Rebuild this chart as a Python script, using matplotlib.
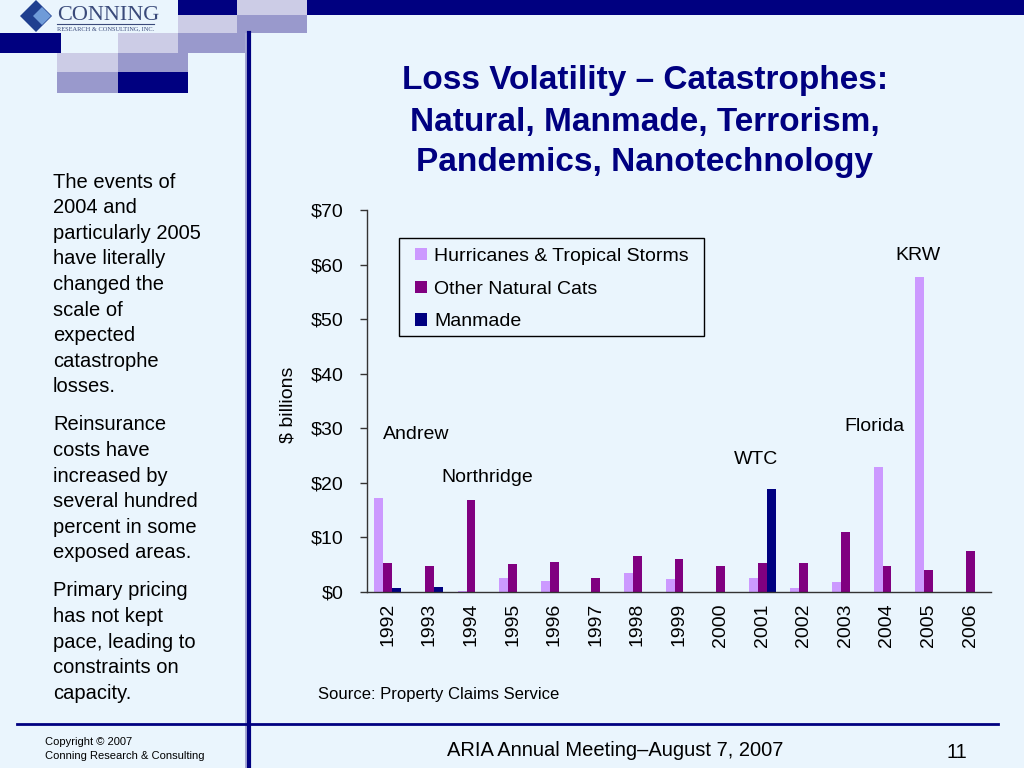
import numpy as np
import matplotlib
matplotlib.use("Agg")
import matplotlib.pyplot as plt
from matplotlib.patches import Rectangle, Polygon

plt.rcParams['font.family'] = ['Liberation Sans', 'DejaVu Sans']

# ---- data ($ billions) ----
years = ['1992', '1993', '1994', '1995', '1996', '1997', '1998', '1999',
         '2000', '2001', '2002', '2003', '2004', '2005', '2006']
hurricanes = [17.2, 0.0, 0.2, 2.6, 2.0, 0.0, 3.5, 2.4, 0.0, 2.6, 0.7, 1.8, 22.9, 57.7, 0.0]
other_nat = [5.3, 4.8, 16.8, 5.1, 5.5, 2.6, 6.6, 6.0, 4.8, 5.3, 5.3, 11.0, 4.8, 4.0, 7.5]
manmade = [0.7, 0.9, 0.0, 0.0, 0.0, 0.0, 0.0, 0.0, 0.0, 18.9, 0.0, 0.0, 0.0, 0.0, 0.0]
series_names = ['Hurricanes & Tropical Storms', 'Other Natural Cats', 'Manmade']
yticks = [0, 10, 20, 30, 40, 50, 60, 70]
event_labels = ['Andrew', 'Northridge', 'WTC', 'Florida', 'KRW']

BG = '#EAF5FD'
NAVY = '#000080'
MID = '#9999CC'
LAV = '#CCCCE6'

W, H = 1024, 768
fig = plt.figure(figsize=(W / 100, H / 100), dpi=100, facecolor=BG)


def fx(x):
    return x / W


def fy(y):
    return 1 - y / H


def rect(x0, y0, x1, y1, color):
    fig.add_artist(Rectangle((fx(x0), fy(y1)), fx(x1) - fx(x0), fy(y0) - fy(y1),
                             transform=fig.transFigure, color=color, lw=0))


# ---- slide decoration ----
rect(178, 0, 237, 15, NAVY)
rect(237, 0, 307, 15, LAV)
rect(307, 0, 1024, 15, NAVY)
rect(178, 15, 237, 33, LAV)
rect(237, 15, 307, 33, MID)
rect(0, 33, 61, 53, NAVY)
rect(118, 33, 178, 53, LAV)
rect(178, 33, 245, 53, MID)
rect(57, 53, 118, 72, LAV)
rect(118, 53, 188, 72, MID)
rect(57, 72, 118, 93, MID)
rect(118, 72, 188, 93, NAVY)

# vertical double rule and footer rule
fig.add_artist(plt.Line2D([fx(245.5), fx(245.5)], [fy(33), 0], transform=fig.transFigure,
                          color=MID, lw=1.2))
fig.add_artist(plt.Line2D([fx(249), fx(249)], [fy(33), 0], transform=fig.transFigure,
                          color=NAVY, lw=3))
fig.add_artist(plt.Line2D([fx(17), fx(998)], [fy(724), fy(724)], transform=fig.transFigure,
                          color=NAVY, lw=2))

# logo
fig.add_artist(Polygon([(fx(20), fy(16)), (fx(36), fy(0)), (fx(52), fy(16)), (fx(36), fy(32))],
                       closed=True, transform=fig.transFigure, color='#1F3F8F', lw=0))
fig.add_artist(Polygon([(fx(33), fy(16)), (fx(42), fy(7)), (fx(51), fy(16)), (fx(42), fy(25))],
                       closed=True, transform=fig.transFigure, color='#6F9BD8', lw=0))
fig.text(fx(57), fy(15), 'CONNING', family=['Liberation Serif', 'DejaVu Serif'],
         fontsize=16, color='#3A4A7A', va='center', ha='left')
fig.add_artist(plt.Line2D([fx(57), fx(154)], [fy(24), fy(24)], transform=fig.transFigure,
                          color='#3A4A7A', lw=0.8))
fig.text(fx(57), fy(28.5), 'RESEARCH & CONSULTING, INC.', family=['Liberation Serif', 'DejaVu Serif'],
         fontsize=4.6, color='#3A4A7A', va='center', ha='left')

# title
title_lines = ['Loss Volatility \u2013 Catastrophes:', 'Natural, Manmade, Terrorism,',
               'Pandemics, Nanotechnology']
for line, y in zip(title_lines, [80, 122, 162]):
    fig.text(fx(645), fy(y), line, fontsize=24, fontweight='bold', color=NAVY,
             ha='center', va='center')

# left-hand commentary
paragraphs = [
    ['The events of', '2004 and', 'particularly 2005', 'have literally', 'changed the',
     'scale of', 'expected', 'catastrophe', 'losses.'],
    ['Reinsurance', 'costs have', 'increased by', 'several hundred', 'percent in some',
     'exposed areas.'],
    ['Primary pricing', 'has not kept', 'pace, leading to', 'constraints on', 'capacity.'],
]
y = 182
for para in paragraphs:
    for line in para:
        fig.text(fx(53), fy(y), line, fontsize=14.5, color='black', ha='left', va='center')
        y += 25.6
    y += 12.4

# ---- chart ----
ax = fig.add_axes([fx(367), fy(592), fx(991) - fx(367), fy(210) - fy(592)])
ax.set_facecolor('none')
x = np.arange(len(years))
bw = 0.216
colors = ['#CC99FF', '#800080', NAVY]
handles = []
for i, (vals, c) in enumerate(zip([hurricanes, other_nat, manmade], colors)):
    b = ax.bar(x + (i - 1) * bw, vals, bw, color=c, label=series_names[i], zorder=2)
    handles.append(b)

ax.set_xlim(-0.5, len(years) - 0.5)
ax.set_ylim(0, 70)
ax.set_yticks(yticks)
ax.set_yticklabels(['$%d' % v for v in yticks], fontsize=14)
ax.set_xticks(x)
ax.set_xticklabels(years, rotation=90, fontsize=14)
ax.tick_params(axis='y', direction='out', length=5, width=1, color='#333333', pad=12)
ax.tick_params(axis='x', length=0, pad=8)
for s in ['top', 'right']:
    ax.spines[s].set_visible(False)
for s in ['left', 'bottom']:
    ax.spines[s].set_color('#333333')
    ax.spines[s].set_linewidth(1)

fig.text(fx(288), fy(405), '$ billions', rotation=90, fontsize=14, ha='center', va='center')

# event annotations (x in category units, y in $ billions)
label_pos = [(0.68, 28.8), (2.38, 20.9), (8.85, 24.2), (11.69, 30.4), (12.75, 61.6)]
for txt, (lx, ly) in zip(event_labels, label_pos):
    ax.text(lx, ly, txt, fontsize=14, ha='center', va='center')

# legend with a plain box around it
fig.add_artist(Rectangle((fx(399), fy(336)), fx(704) - fx(399), fy(238) - fy(336),
                         transform=fig.transFigure, facecolor=BG, edgecolor='black', lw=1,
                         zorder=3))
fig.legend(handles=handles, loc='upper left', bbox_to_anchor=(fx(415), fy(248)),
           frameon=False, fontsize=14, borderpad=0, borderaxespad=0,
           handlelength=0.6, handleheight=0.6, handletextpad=0.4, labelspacing=0.8)

fig.text(fx(318), fy(695), 'Source: Property Claims Service', fontsize=12, ha='left', va='center')

# footer
narrow = ['Liberation Sans Narrow', 'Liberation Sans', 'DejaVu Sans']
fig.text(fx(45), fy(742), 'Copyright \u00a9 2007', family=narrow, fontsize=8, ha='left', va='center')
fig.text(fx(45), fy(756), 'Conning Research & Consulting', family=narrow, fontsize=8,
         ha='left', va='center')
fig.text(fx(615), fy(750), 'ARIA Annual Meeting\u2013August 7, 2007', family=narrow,
         fontsize=14.5, ha='center', va='center')
fig.text(fx(957), fy(752), '11', family=narrow, fontsize=14.5, ha='center', va='center')

fig.savefig('out.png', dpi=100, facecolor=BG)
